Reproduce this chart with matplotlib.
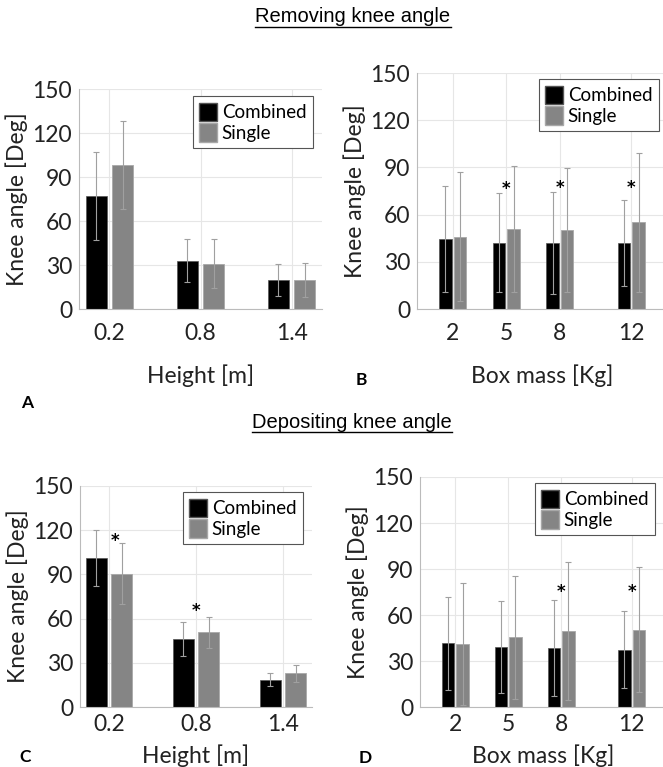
import matplotlib.pyplot as plt
from matplotlib.patches import Patch

plt.rcParams['font.family'] = ['Lato', 'DejaVu Sans']

# Removing, height (A)
heights = [0.2, 0.8, 1.4]
rem_h_comb = [77, 33, 20]
rem_h_comb_sd = [30, 14.5, 11]
rem_h_sing = [98, 31, 20]
rem_h_sing_sd = [30, 16.5, 11.5]
rem_h_stars = []

# Removing, box mass (B)
masses = [2, 5, 8, 12]
rem_m_comb = [44.5, 42, 42, 42]
rem_m_comb_sd = [33.5, 31.5, 32.5, 27.5]
rem_m_sing = [46, 51, 50, 55]
rem_m_sing_sd = [41, 40, 39.5, 44]
rem_m_stars = [(5, 76), (8, 77), (12, 77)]

# Depositing, height (C)
dep_h_comb = [101, 46, 18.6]
dep_h_comb_sd = [19, 11.7, 4.5]
dep_h_sing = [90.5, 50.7, 23]
dep_h_sing_sd = [20.5, 10.7, 5.8]
dep_h_stars = [(0.24, 113), (0.8, 65)]

# Depositing, box mass (D)
dep_m_comb = [41.6, 39.4, 38.6, 37.3]
dep_m_comb_sd = [30.4, 30, 31.5, 25]
dep_m_sing = [41.2, 45.5, 49.6, 50.5]
dep_m_sing_sd = [39.8, 40, 45, 41]
dep_m_stars = [(8, 75), (12, 75)]

W, H = 663, 767
fig = plt.figure(figsize=(W / 100, H / 100), dpi=100)


def rect(l, r, t, b):
    return [l / W, 1 - b / H, (r - l) / W, (b - t) / H]


def panel(box, x, comb, comb_sd, sing, sing_sd, width, off, xlim, xlabel, stars,
          leg_xy, tpad, lpad):
    ax = fig.add_axes(rect(*box))
    ekw = dict(ecolor='#a0a0a0', elinewidth=0.8, capsize=2, capthick=0.8)
    xc = [v - off for v in x]
    xs = [v + off for v in x]
    ax.bar(xc, comb, width, color='black', edgecolor='#555555', linewidth=0.5,
           yerr=comb_sd, error_kw=ekw, zorder=2)
    ax.bar(xs, sing, width, color='#858585', edgecolor='#a8a8a8', linewidth=0.6,
           yerr=sing_sd, error_kw=ekw, zorder=2)
    for sx, sy in stars:
        ax.text(sx, sy, '*', ha='center', va='center', fontsize=12,
                fontweight='bold', family='DejaVu Sans')
    ax.set_xlim(xlim)
    ax.set_ylim(0, 150)
    ax.set_yticks(range(0, 151, 30))
    ax.set_xticks(x)
    ax.set_xticklabels([str(v) for v in x])
    ax.tick_params(labelsize=16.5, length=0, colors='#222222')
    ax.tick_params(axis='y', pad=5)
    ax.tick_params(axis='x', pad=tpad)
    ax.grid(True, color='#e6e6e6', linewidth=0.8, zorder=0)
    ax.set_axisbelow(True)
    for s in ['top', 'right']:
        ax.spines[s].set_visible(False)
    for s in ['left', 'bottom']:
        ax.spines[s].set_color('#bbbbbb')
        ax.spines[s].set_linewidth(0.8)
    ax.set_ylabel('Knee angle [Deg]', fontsize=16.5, labelpad=3, color='#222222')
    ax.set_xlabel(xlabel, fontsize=16.5, labelpad=lpad, color='#222222')
    handles = [Patch(facecolor='black', edgecolor='#555555'),
               Patch(facecolor='#858585', edgecolor='#a8a8a8')]
    leg = ax.legend(handles, ['Combined', 'Single'], loc='upper right',
                    bbox_to_anchor=(leg_xy[0] / W, 1 - leg_xy[1] / H),
                    bbox_transform=fig.transFigure, fontsize=13.5,
                    fancybox=False, framealpha=1, edgecolor='#555555',
                    handlelength=0.95, handleheight=1.15, handletextpad=0.25,
                    labelspacing=0.1, borderpad=0.35, borderaxespad=0)
    leg.get_frame().set_linewidth(0.8)
    return ax


panel((79, 322, 89, 309), heights, rem_h_comb, rem_h_comb_sd, rem_h_sing, rem_h_sing_sd,
      0.14, 0.087, (0, 1.6), 'Height [m]', rem_h_stars, (313, 96), 10, 15)
panel((417, 667, 73, 309), masses, rem_m_comb, rem_m_comb_sd, rem_m_sing, rem_m_sing_sd,
      0.7, 0.41, (0, 14), 'Box mass [Kg]', rem_m_stars, (659, 79), 10, 15)
panel((80, 312, 486, 707), heights, dep_h_comb, dep_h_comb_sd, dep_h_sing, dep_h_sing_sd,
      0.14, 0.087, (0, 1.6), 'Height [m]', dep_h_stars, (303, 492), 5, 7)
panel((420, 667, 477, 707), masses, dep_m_comb, dep_m_comb_sd, dep_m_sing, dep_m_sing_sd,
      0.7, 0.41, (0, 14), 'Box mass [Kg]', dep_m_stars, (655, 483), 5, 7)

# panel letters
for lab, px, py in [('A', 27, 403), ('B', 361, 380), ('C', 25, 757), ('D', 365, 758)]:
    fig.text(px / W, 1 - py / H, lab, fontsize=12.5, fontweight='bold',
             ha='center', va='center')

# underlined section titles
renderer = fig.canvas.get_renderer()
for title, px, py in [('Removing knee angle', 353, 17), ('Depositing knee angle', 352, 422)]:
    t = fig.text(px / W, 1 - py / H, title, fontsize=14.5, ha='center', va='center',
                 family=['Liberation Sans', 'DejaVu Sans'])
    bb = t.get_window_extent(renderer).transformed(fig.transFigure.inverted())
    fig.add_artist(plt.Line2D([bb.x0, bb.x1], [bb.y0 - 0.001, bb.y0 - 0.001],
                              transform=fig.transFigure, color='black', linewidth=1.0))

fig.savefig('out.png', dpi=100)
